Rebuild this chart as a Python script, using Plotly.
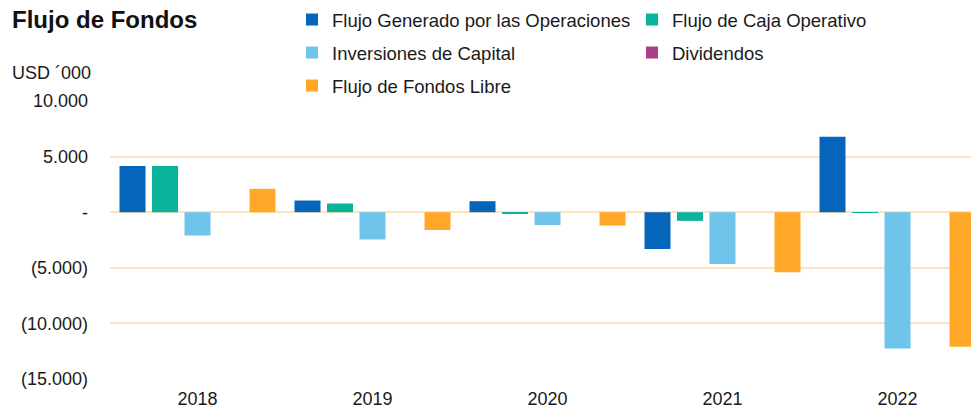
import plotly.graph_objects as go

years = ["2018", "2019", "2020", "2021", "2022"]
flujo_generado = [4150, 1050, 990, -3300, 6780]
flujo_caja = [4150, 780, -150, -780, -60]
inversiones = [-2100, -2450, -1150, -4650, -12250]
dividendos = [0, 0, 0, 0, 0]
flujo_libre = [2100, -1600, -1200, -5400, -12100]

series_names = ["Flujo Generado por las Operaciones", "Flujo de Caja Operativo",
                "Inversiones de Capital", "Dividendos", "Flujo de Fondos Libre"]
series_values = [flujo_generado, flujo_caja, inversiones, dividendos, flujo_libre]
colors = ["#0565BA", "#0BB39B", "#6EC4EA", "#A93F84", "#FFA828"]
legend_ids = ["legend", "legend", "legend2", "legend2", "legend3"]

ytick_vals = [10000, 5000, 0, -5000, -10000, -15000]
ytick_text = ["10.000", "5.000", "-", "(5.000)", "(10.000)", "(15.000)"]

FONT = "Liberation Sans, Arial, sans-serif"

fig = go.Figure()
for name, vals, col, lg in zip(series_names, series_values, colors, legend_ids):
    fig.add_trace(go.Bar(x=years, y=vals, name=name, marker_color=col,
                         marker_line_width=0, legend=lg))

# page body has an 8px margin: figure sized / offset to fit the 979x408 window
W, H = 971, 400
left, top, bottom = 102, 93, 29
cat_px = 175.0
plot_w = W - left
plot_h = H - top - bottom

legend_common = dict(orientation="h", xref="container", yref="container",
                     xanchor="left", yanchor="middle", entrywidth=295,
                     font=dict(family=FONT, size=18.5, color="#1a1a1a"),
                     bgcolor="rgba(0,0,0,0)", itemclick=False)
lx = 284 / W
fig.update_layout(
    width=W, height=H,
    margin=dict(l=left, r=0, t=top, b=bottom, autoexpand=False),
    paper_bgcolor="white", plot_bgcolor="white",
    barmode="group", bargap=0.0714, bargroupgap=0.2,
    font=dict(family=FONT, size=18, color="#1a1a1a"),
    title=dict(text="<b>Flujo de Fondos</b>", x=4 / W, xanchor="left",
               y=1 - 12 / H, yanchor="middle", xref="container", yref="container",
               font=dict(family=FONT, size=24, color="#111")),
    legend=dict(**legend_common, x=lx, y=1 - 12 / H),
    legend2=dict(**legend_common, x=lx, y=1 - 45 / H),
    legend3=dict(**legend_common, x=lx, y=1 - 78 / H),
    xaxis=dict(range=[-0.5, -0.5 + plot_w / cat_px], showgrid=False, zeroline=False,
               showline=False, ticks="", ticklabelstandoff=7,
               tickfont=dict(family=FONT, size=18, color="#1a1a1a")),
    yaxis=dict(range=[-15000, 10000], tickvals=ytick_vals, ticktext=ytick_text,
               showgrid=True, gridcolor="#FCE3BC", gridwidth=1.5,
               zeroline=True, zerolinecolor="#FCE3BC", zerolinewidth=1.5,
               showline=False, ticks="", ticklabelstandoff=21,
               tickfont=dict(family=FONT, size=18, color="#1a1a1a")),
    annotations=[dict(text="USD ´000", xref="paper", yref="paper",
                      x=-(left - 2) / plot_w, y=1 + (top - 65) / plot_h,
                      xanchor="left", yanchor="middle", showarrow=False,
                      font=dict(family=FONT, size=18, color="#1a1a1a"))],
)

fig.write_html("out.html")
